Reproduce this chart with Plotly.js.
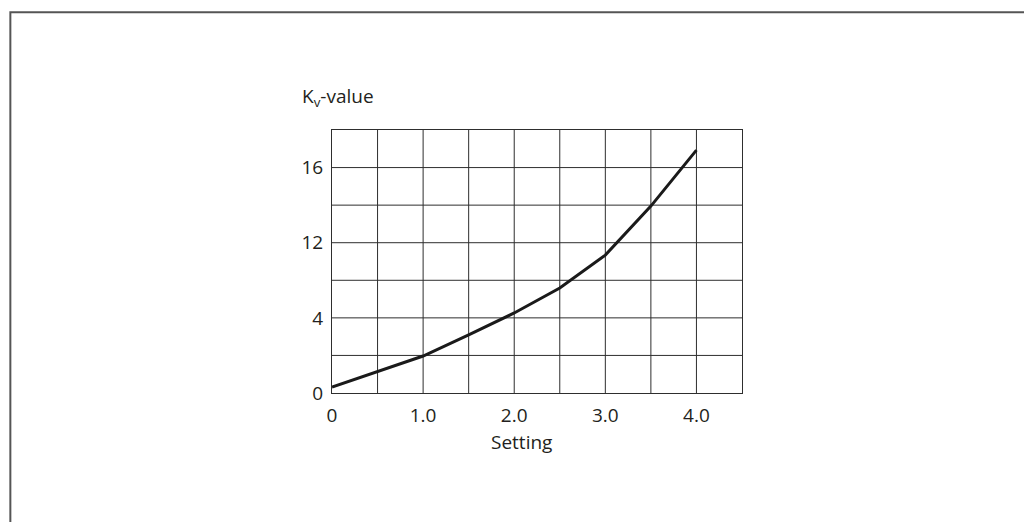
<!DOCTYPE html>
<html>
<head>
<meta charset="utf-8">
<script src="https://cdn.plot.ly/plotly-3.0.1.min.js"></script>
<style>html,body{margin:0;padding:0;background:#fff;}#chart{width:1024px;height:522px;}</style>
</head>
<body>
<div id="chart"></div>
<script>
// Data (y in grid units: each grid row = 2)
const settings = [0, 0.5, 1.0, 1.5, 2.0, 2.5, 3.0, 3.5, 4.0];
const kvValues = [0.32, 1.14, 1.97, 3.09, 4.26, 5.59, 7.34, 9.95, 12.93];
const xTickVals = [0, 1, 2, 3, 4];
const xTickText = ['0', '1.0', '2.0', '3.0', '4.0'];
const yTickVals = [0, 4, 8, 12];
const yTickText = ['0', '4', '12', '16'];
const xGridVals = [0.5, 1.0, 1.5, 2.0, 2.5, 3.0, 3.5, 4.0];
const yGridVals = [2, 4, 6, 8, 10, 12];

const font = {family: 'Open Sans, Liberation Sans, sans-serif', size: 19, color: '#231f20'};
const gridColor = '#2e2e2e';

const trace = {
  x: settings, y: kvValues, type: 'scatter', mode: 'lines',
  line: {color: '#1a1a1a', width: 3}, hoverinfo: 'skip'
};

const layout = {
  width: 1024, height: 522,
  margin: {l: 332, r: 282, t: 130, b: 129},
  paper_bgcolor: '#fff', plot_bgcolor: '#fff',
  showlegend: false,
  font: font,
  xaxis: {
    range: [0, 4.5],
    showgrid: false,
    zeroline: false, showline: true, mirror: true, linecolor: gridColor, linewidth: 1,
    tickmode: 'array', tickvals: xTickVals, ticktext: xTickText, ticks: '',
    ticklabelstandoff: 5,
    tickfont: font
  },
  yaxis: {
    range: [0, 14],
    showgrid: false,
    zeroline: false, showline: true, mirror: true, linecolor: gridColor, linewidth: 1,
    tickmode: 'array', tickvals: yTickVals, ticktext: yTickText, ticks: '',
    ticklabelstandoff: 4,
    tickfont: font
  },
  shapes: [
    ...yGridVals.map(v => ({type: 'line', xref: 'paper', yref: 'y', x0: 0, x1: 1, y0: v, y1: v, line: {color: gridColor, width: 1}, layer: 'below'})),
    ...xGridVals.map(v => ({type: 'line', xref: 'x', yref: 'paper', x0: v, x1: v, y0: 0, y1: 1, line: {color: gridColor, width: 1}, layer: 'below'})),
    // outer frame
    {type: 'rect', xref: 'paper', yref: 'paper', x0: -0.7845, x1: 2, y0: -1, y1: 1.448, line: {color: '#555', width: 2}, fillcolor: 'rgba(0,0,0,0)'}
  ],
  annotations: [
    {xref: 'paper', yref: 'paper', x: -0.078, y: 1.0665, xanchor: 'left', yanchor: 'bottom', showarrow: false,
     text: 'K<sub>v</sub>-value', font: font},
    {xref: 'paper', yref: 'paper', x: 0.461, y: -0.13, xanchor: 'center', yanchor: 'top', showarrow: false,
     text: 'Setting', font: font}
  ]
};

Plotly.newPlot('chart', [trace], layout, {displayModeBar: false, staticPlot: true});
</script>
</body>
</html>
